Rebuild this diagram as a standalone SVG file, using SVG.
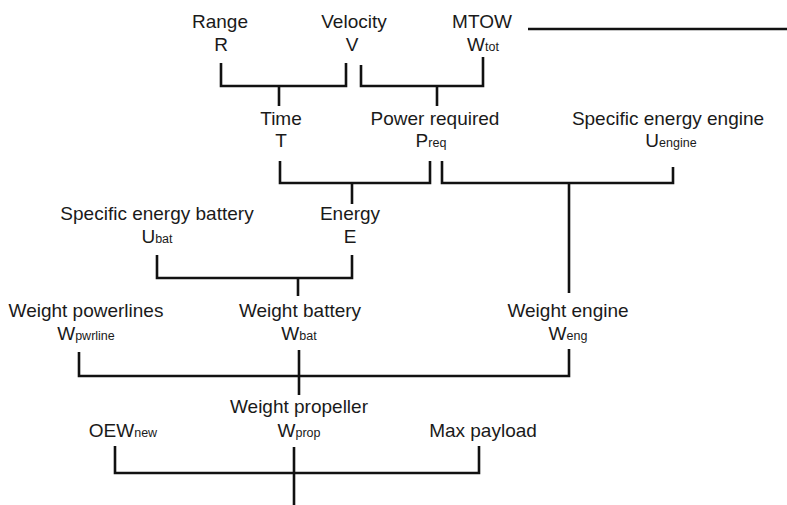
<svg xmlns="http://www.w3.org/2000/svg" width="787" height="505" viewBox="0 0 787 505">
<style>
text{font-family:"Liberation Sans",Arial,sans-serif;font-size:19px;fill:#1a1a1a;text-anchor:middle}
.s{font-size:12.5px}
.c path,.c line{fill:none;stroke:#111;stroke-width:2.6}
</style>
<rect width="787" height="505" fill="#fff"/>
<g id="range"><text x="220" y="28">Range</text><text x="221" y="51">R</text></g>
<g id="velocity"><text x="354" y="28">Velocity</text><text x="352" y="51">V</text></g>
<g id="mtow"><text x="482" y="28">MTOW</text><text x="483" y="51">W<tspan class="s">tot</tspan></text></g>
<g id="time"><text x="281" y="125">Time</text><text x="281" y="147">T</text></g>
<g id="power"><text x="435" y="125">Power required</text><text x="431" y="147">P<tspan class="s">req</tspan></text></g>
<g id="uengine"><text x="668" y="125">Specific energy engine</text><text x="671" y="147">U<tspan class="s">engine</tspan></text></g>
<g id="ubat"><text x="157" y="220">Specific energy battery</text><text x="157" y="243">U<tspan class="s">bat</tspan></text></g>
<g id="energy"><text x="350" y="220">Energy</text><text x="350" y="243">E</text></g>
<g id="wpwrline"><text x="86" y="317">Weight powerlines</text><text x="86" y="340">W<tspan class="s">pwrline</tspan></text></g>
<g id="wbat"><text x="300" y="317">Weight battery</text><text x="299" y="340">W<tspan class="s">bat</tspan></text></g>
<g id="weng"><text x="568" y="317">Weight engine</text><text x="568" y="340">W<tspan class="s">eng</tspan></text></g>
<g id="wprop"><text x="299" y="413">Weight propeller</text><text x="299" y="437">W<tspan class="s">prop</tspan></text></g>
<g id="oew"><text x="123" y="437">OEW<tspan class="s">new</tspan></text></g>
<g id="payload"><text x="483" y="437">Max payload</text></g>
<g id="connectors" class="c">
<line x1="528" y1="29" x2="787" y2="29"/>
<path d="M221,63 V86 H346 V63 M279,86 V106"/>
<path d="M361,65 V86 H483 V57 M437,86 V106"/>
<path d="M280,161 V183 H430 V161 M352,183 V204"/>
<path d="M442,161 V183 H673 V167 M569,183 V293"/>
<path d="M157,255 V278 H352 V255 M298,278 V296"/>
<path d="M79,352 V376 H569 V349 M299,350 V395"/>
<path d="M115,446 V473 H479 V446 M294,447 V505"/>
</g>
</svg>
